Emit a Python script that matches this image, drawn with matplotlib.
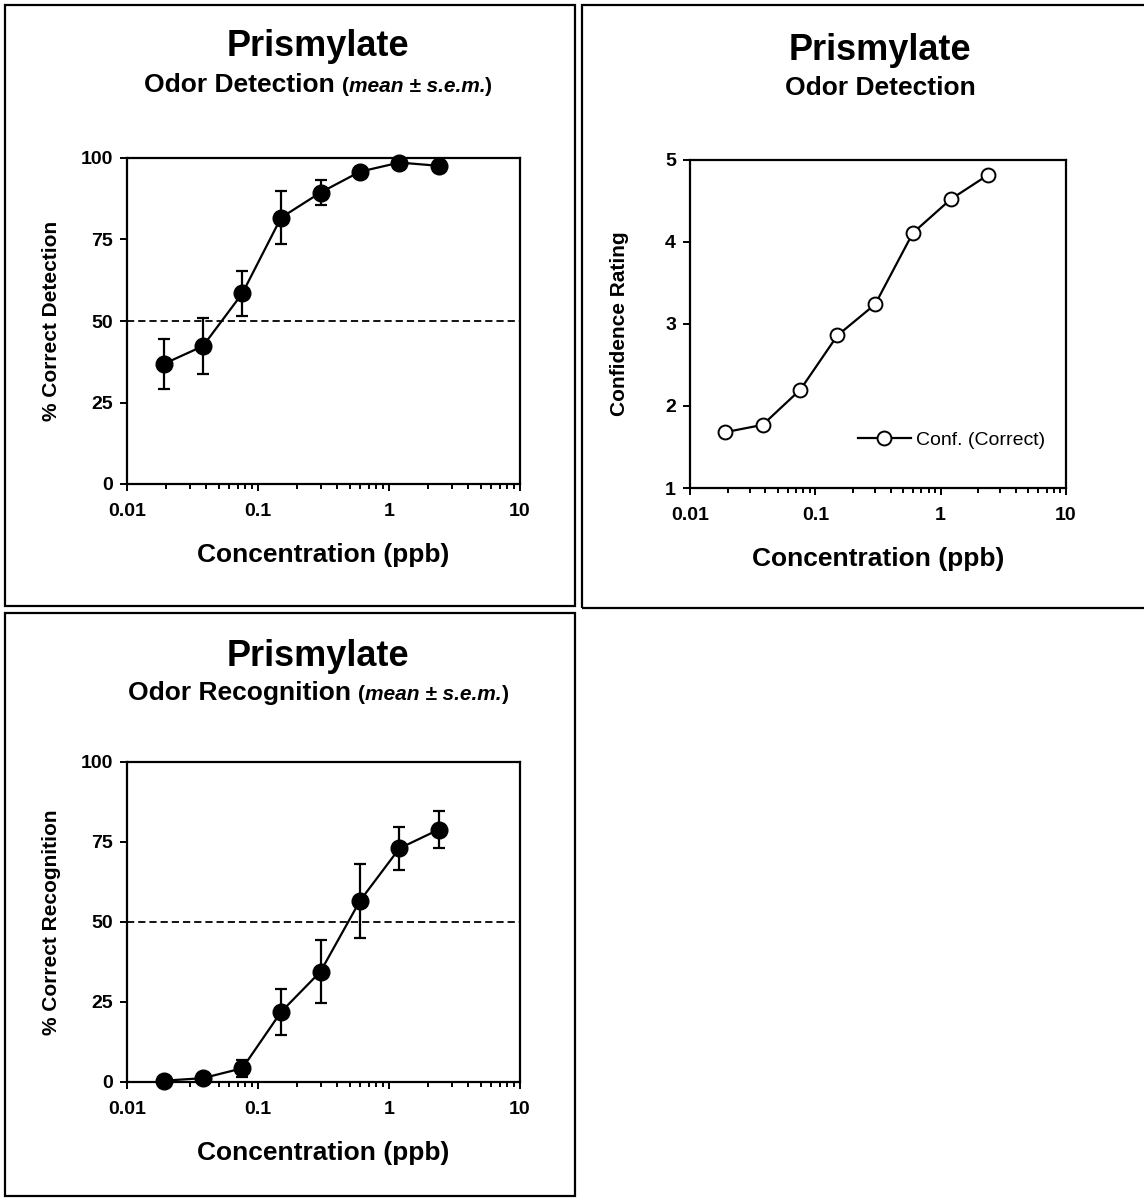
import matplotlib
matplotlib.use("Agg")
import matplotlib.pyplot as plt
from matplotlib.patches import Rectangle
from matplotlib.offsetbox import TextArea, HPacker, AnnotationBbox
from matplotlib.ticker import LogLocator, NullFormatter, FixedLocator, FixedFormatter

plt.rcParams['font.family'] = ['Liberation Sans', 'DejaVu Sans']

# ---------------- data ----------------
conc = [0.019, 0.038, 0.076, 0.15, 0.3, 0.6, 1.2, 2.4]
detect_mean = [36.8, 42.3, 58.5, 81.7, 89.4, 95.8, 98.6, 97.6]
detect_sem = [7.7, 8.6, 6.9, 8.2, 3.8, 1.3, 0.8, 0.8]
conf_correct = [1.68, 1.77, 2.20, 2.86, 3.24, 4.11, 4.52, 4.82]
recog_mean = [0.4, 1.2, 4.3, 21.9, 34.5, 56.6, 73.0, 78.9]
recog_sem = [0.3, 0.5, 2.6, 7.1, 9.8, 11.5, 6.8, 5.9]

xticks = [0.01, 0.1, 1, 10]
xticklabels = ['0.01', '0.1', '1', '10']
pct_ticks = [0, 25, 50, 75, 100]
conf_ticks = [1, 2, 3, 4, 5]

title_main = "Prismylate"
sub_detect = "Odor Detection"
sub_recog = "Odor Recognition"
sub_note = "mean \u00b1 s.e.m."
xlabel = "Concentration (ppb)"
legend_label = "Conf. (Correct)"

W, H = 1144, 1200
fig = plt.figure(figsize=(W / 100, H / 100), dpi=100)


def fx(px):
    return px / W


def fy(py):
    return 1 - py / H


def make_axes(left, top, right, bottom):
    return fig.add_axes([fx(left), fy(bottom), fx(right - left), (bottom - top) / H])


def style_axes(ax, yticks, ylim, ylabel, ylabelpad=14):
    ax.set_xscale('log')
    ax.set_xlim(0.01, 10)
    ax.set_ylim(*ylim)
    ax.xaxis.set_major_locator(FixedLocator(xticks))
    ax.xaxis.set_major_formatter(FixedFormatter(xticklabels))
    ax.xaxis.set_minor_locator(LogLocator(base=10, subs=range(2, 10)))
    ax.xaxis.set_minor_formatter(NullFormatter())
    ax.set_yticks(yticks)
    ax.set_yticklabels([str(t) for t in yticks])
    for s in ax.spines.values():
        s.set_linewidth(1.6)
    ax.tick_params(axis='both', which='major', direction='out', length=5, width=1.4,
                   labelsize=14, pad=5)
    ax.tick_params(axis='x', which='major', pad=8.5)
    ax.tick_params(axis='x', which='minor', direction='out', length=3.5, width=1.4)
    ax.tick_params(axis='y', which='minor', left=False)
    for lab in ax.get_xticklabels() + ax.get_yticklabels():
        lab.set_fontweight('bold')
    ax.set_xlabel(xlabel, fontsize=19, fontweight='bold', labelpad=17)
    ax.set_ylabel(ylabel, fontsize=15, fontweight='bold', labelpad=ylabelpad)


def panel_box(left, top, right, bottom):
    fig.patches.append(Rectangle((fx(left), fy(bottom)), fx(right - left), (bottom - top) / H,
                                 transform=fig.transFigure, fill=False, edgecolor='black',
                                 linewidth=1.6))


def titles(cx, ty, sy, sub, note):
    fig.text(fx(cx), fy(ty), title_main, fontsize=26, fontweight='bold',
             ha='center', va='center')
    if note:
        parts = [TextArea(sub + " ", textprops=dict(fontsize=19, fontweight='bold')),
                 TextArea("(", textprops=dict(fontsize=15, fontweight='bold')),
                 TextArea(note, textprops=dict(fontsize=15, fontweight='bold', fontstyle='italic')),
                 TextArea(")", textprops=dict(fontsize=15, fontweight='bold'))]
        pack = HPacker(children=parts, align='baseline', pad=0, sep=0)
        ab = AnnotationBbox(pack, (fx(cx), fy(sy)), xycoords='figure fraction',
                            frameon=False, box_alignment=(0.5, 0.5))
        fig.add_artist(ab)
    else:
        fig.text(fx(cx), fy(sy), sub, fontsize=19, fontweight='bold', ha='center', va='center')


# panel frames
panel_box(5, 5, 575, 606)
panel_box(582, 5, 1150, 608)
panel_box(5, 613, 575, 1196)

# ---------- Panel 1: detection ----------
ax1 = make_axes(127, 158, 520, 484)
style_axes(ax1, pct_ticks, (0, 100), "% Correct Detection")
ax1.axhline(50, color='black', linewidth=1.3, linestyle=(0, (4, 2.2)), zorder=1)
ax1.errorbar(conc, detect_mean, yerr=detect_sem, color='black', linewidth=1.6,
             elinewidth=1.6, capsize=4.5, capthick=1.6, marker='o', markersize=12,
             markerfacecolor='black', markeredgecolor='black', zorder=3, clip_on=False)
titles(318, 47, 85, sub_detect, sub_note)

# ---------- Panel 2: confidence ----------
ax2 = make_axes(690, 160, 1066, 488)
style_axes(ax2, conf_ticks, (1, 5), "Confidence Rating", ylabelpad=26)
ax2.plot(conc, conf_correct, color='black', linewidth=1.6, marker='o', markersize=10,
         markerfacecolor='white', markeredgecolor='black', markeredgewidth=1.4,
         label=legend_label, zorder=3, clip_on=False)
leg = ax2.legend(loc='center left', bbox_to_anchor=(0.447, 0.146), frameon=False,
                 fontsize=14, handlelength=2.7, handletextpad=0.3,
                 borderaxespad=0, borderpad=0)
titles(880, 51, 88, sub_detect, None)

# ---------- Panel 3: recognition ----------
ax3 = make_axes(127, 762, 520, 1082)
style_axes(ax3, pct_ticks, (0, 100), "% Correct Recognition")
ax3.axhline(50, color='black', linewidth=1.3, linestyle=(0, (4, 2.2)), zorder=1)
ax3.errorbar(conc, recog_mean, yerr=recog_sem, color='black', linewidth=1.6,
             elinewidth=1.6, capsize=4.5, capthick=1.6, marker='o', markersize=12,
             markerfacecolor='black', markeredgecolor='black', zorder=3, clip_on=False)
titles(318, 656, 693, sub_recog, sub_note)

fig.savefig('out.png', dpi=100, facecolor='white')
